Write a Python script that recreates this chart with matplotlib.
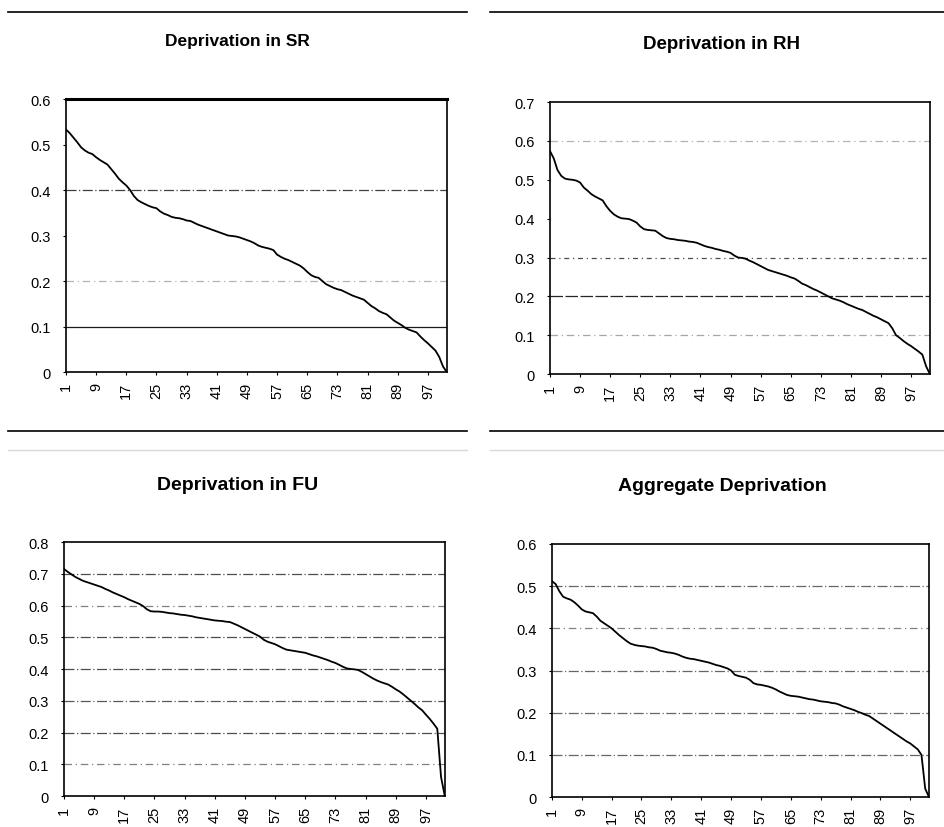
import matplotlib
matplotlib.use("Agg")
from matplotlib import pyplot as plt
from matplotlib.lines import Line2D
from matplotlib.ticker import FuncFormatter

plt.rcParams['font.family'] = ['Liberation Sans', 'DejaVu Sans']

# ranked units 1..102
units = list(range(1, 103))
tick_units = list(range(1, 98, 8))

dep_sr = [0.533, 0.525, 0.515, 0.505, 0.494, 0.487, 0.482, 0.479, 0.472, 0.466,
          0.461, 0.456, 0.446, 0.436, 0.425, 0.417, 0.410, 0.400, 0.387, 0.378,
          0.373, 0.369, 0.365, 0.362, 0.360, 0.353, 0.348, 0.345, 0.341, 0.339,
          0.338, 0.336, 0.333, 0.332, 0.328, 0.324, 0.321, 0.318, 0.315, 0.312,
          0.309, 0.306, 0.303, 0.300, 0.299, 0.298, 0.296, 0.293, 0.290, 0.287,
          0.283, 0.278, 0.275, 0.273, 0.271, 0.268, 0.258, 0.253, 0.249, 0.246,
          0.242, 0.238, 0.234, 0.228, 0.220, 0.213, 0.209, 0.207, 0.200, 0.193,
          0.189, 0.185, 0.182, 0.180, 0.176, 0.172, 0.168, 0.165, 0.162, 0.159,
          0.152, 0.145, 0.140, 0.134, 0.130, 0.127, 0.120, 0.113, 0.108, 0.103,
          0.097, 0.093, 0.090, 0.087, 0.078, 0.070, 0.063, 0.055, 0.047, 0.033,
          0.012, 0.000]

dep_rh = [0.574, 0.555, 0.525, 0.510, 0.503, 0.501, 0.500, 0.498, 0.493, 0.480,
          0.472, 0.463, 0.457, 0.452, 0.447, 0.432, 0.420, 0.411, 0.405, 0.401,
          0.400, 0.399, 0.395, 0.390, 0.380, 0.373, 0.371, 0.370, 0.369, 0.362,
          0.355, 0.350, 0.348, 0.347, 0.345, 0.344, 0.343, 0.341, 0.340, 0.338,
          0.334, 0.330, 0.327, 0.325, 0.322, 0.320, 0.317, 0.315, 0.312, 0.305,
          0.300, 0.299, 0.297, 0.292, 0.288, 0.283, 0.278, 0.273, 0.268, 0.265,
          0.262, 0.259, 0.256, 0.253, 0.249, 0.246, 0.240, 0.233, 0.229, 0.224,
          0.219, 0.215, 0.210, 0.205, 0.200, 0.195, 0.192, 0.189, 0.185, 0.180,
          0.176, 0.172, 0.168, 0.165, 0.160, 0.155, 0.150, 0.146, 0.141, 0.136,
          0.131, 0.118, 0.100, 0.093, 0.085, 0.078, 0.072, 0.065, 0.058, 0.050,
          0.020, 0.000]

dep_fu = [0.715, 0.706, 0.698, 0.690, 0.684, 0.678, 0.674, 0.670, 0.666, 0.662,
          0.658, 0.652, 0.647, 0.641, 0.636, 0.631, 0.626, 0.620, 0.615, 0.610,
          0.605, 0.598, 0.588, 0.582, 0.581, 0.581, 0.580, 0.578, 0.576, 0.575,
          0.573, 0.571, 0.570, 0.568, 0.566, 0.563, 0.561, 0.559, 0.557, 0.555,
          0.553, 0.552, 0.551, 0.549, 0.548, 0.543, 0.538, 0.532, 0.526, 0.520,
          0.514, 0.508, 0.502, 0.492, 0.486, 0.482, 0.478, 0.472, 0.466, 0.461,
          0.459, 0.457, 0.455, 0.453, 0.451, 0.447, 0.443, 0.440, 0.436, 0.432,
          0.428, 0.423, 0.419, 0.413, 0.407, 0.402, 0.400, 0.399, 0.397, 0.391,
          0.384, 0.377, 0.370, 0.364, 0.359, 0.355, 0.351, 0.344, 0.336, 0.329,
          0.320, 0.310, 0.300, 0.290, 0.279, 0.270, 0.256, 0.243, 0.228, 0.212,
          0.060, 0.000]

dep_agg = [0.512, 0.505, 0.488, 0.475, 0.471, 0.468, 0.462, 0.454, 0.445, 0.440,
           0.438, 0.436, 0.428, 0.418, 0.412, 0.406, 0.400, 0.392, 0.384, 0.377,
           0.370, 0.364, 0.361, 0.359, 0.358, 0.357, 0.355, 0.354, 0.351, 0.347,
           0.345, 0.343, 0.342, 0.340, 0.337, 0.333, 0.330, 0.328, 0.327, 0.325,
           0.323, 0.321, 0.319, 0.316, 0.313, 0.311, 0.308, 0.305, 0.300, 0.290,
           0.287, 0.285, 0.283, 0.278, 0.270, 0.267, 0.266, 0.264, 0.262, 0.259,
           0.255, 0.250, 0.246, 0.242, 0.240, 0.239, 0.238, 0.236, 0.234, 0.232,
           0.231, 0.229, 0.227, 0.226, 0.225, 0.223, 0.222, 0.219, 0.215, 0.212,
           0.209, 0.206, 0.202, 0.199, 0.195, 0.192, 0.186, 0.180, 0.174, 0.168,
           0.162, 0.156, 0.150, 0.144, 0.138, 0.132, 0.127, 0.120, 0.113, 0.100,
           0.020, 0.000]

titles = ["Deprivation in SR", "Deprivation in RH",
          "Deprivation in FU", "Aggregate Deprivation"]
title_sizes = [12.5, 13.5, 14, 14]
y_max = [0.6, 0.7, 0.8, 0.6]

# which gridlines survived the scan, and how they look
grids = [
    [(0.1, '-', '0.1'), (0.2, (0, (6, 3, 1, 3)), '0.7'), (0.4, (0, (8, 2, 1, 2)), '0.25')],
    [(0.1, (0, (6, 3, 1, 3)), '0.65'), (0.2, (0, (10, 2)), '0.15'),
     (0.3, (0, (4, 3, 1, 3)), '0.3'), (0.6, (0, (6, 3, 1, 3)), '0.7')],
    [(0.1, (0, (6, 3, 1, 3)), '0.5'), (0.2, (0, (8, 2, 1, 2)), '0.3'),
     (0.3, (0, (8, 2, 1, 2)), '0.35'), (0.4, (0, (8, 2, 1, 2)), '0.3'),
     (0.5, (0, (8, 2, 1, 2)), '0.3'), (0.6, (0, (6, 3, 1, 3)), '0.5'),
     (0.7, (0, (8, 2, 1, 2)), '0.3')],
    [(0.1, (0, (8, 2, 1, 2)), '0.4'), (0.2, (0, (8, 2, 1, 2)), '0.4'),
     (0.3, (0, (8, 2, 1, 2)), '0.4'), (0.4, (0, (6, 3, 1, 3)), '0.5'),
     (0.5, (0, (8, 2, 1, 2)), '0.4')],
]

series = [dep_sr, dep_rh, dep_fu, dep_agg]

positions = [[0.0698, 0.5495, 0.403, 0.3297],
             [0.582, 0.547, 0.402, 0.3285],
             [0.0677, 0.0374, 0.403, 0.3068],
             [0.584, 0.0362, 0.399, 0.3056]]
title_xy = [(0.251, 0.950), (0.764, 0.946), (0.251, 0.414), (0.764, 0.412)]

fig = plt.figure(figsize=(9.45, 8.28), dpi=100)

# horizontal rules of the scanned page
for yy, col, lw in [(1 - 13 / 828, 'black', 1.2), (1 - 432 / 828, 'black', 1.2),
                    (1 - 451 / 828, '0.85', 1.0)]:
    fig.add_artist(Line2D([8 / 945, 467 / 945], [yy, yy], color=col, lw=lw))
    fig.add_artist(Line2D([490 / 945, 1.0], [yy, yy], color=col, lw=lw))

fmt = FuncFormatter(lambda v, p: "0" if abs(v) < 1e-9 else "%.1f" % v)

for k, values in enumerate(series):
    ax = fig.add_axes(positions[k])
    for level, ls, col in grids[k]:
        ax.axhline(level, color=col, lw=0.9, linestyle=ls, zorder=1)
    ax.plot(units, values, color='black', lw=1.3, zorder=3)
    ax.set_xlim(1, units[-1])
    ax.set_ylim(0, y_max[k])
    ax.set_yticks([i / 10 for i in range(int(round(y_max[k] * 10)) + 1)])
    ax.yaxis.set_major_formatter(fmt)
    ax.set_xticks(tick_units)
    ax.set_xticklabels([str(t) for t in tick_units], rotation=90)
    ax.tick_params(axis='both', labelsize=10.5, length=2, width=0.8)
    ax.tick_params(axis='y', pad=9)
    ax.tick_params(axis='x', pad=5)
    for side in ['left', 'right', 'bottom', 'top']:
        ax.spines[side].set_linewidth(1.2)
        ax.spines[side].set_color('black')
    if k == 0:
        ax.spines['top'].set_linewidth(2.2)
    fig.text(title_xy[k][0], title_xy[k][1], titles[k], ha='center', va='center',
             fontsize=title_sizes[k], fontweight='bold')

fig.savefig("out.png", dpi=100)
